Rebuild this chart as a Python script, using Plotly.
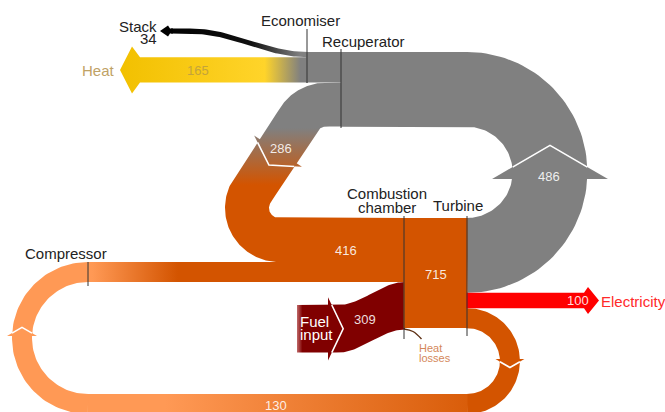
import numpy as np
import plotly.graph_objects as go

# flow values (same units as the reference diagram)
flow_names = ["Stack", "Heat", "Recuperated", "Exhaust", "Compressor", "Air", "Fuel input", "Turbine", "Electricity"]
flow_values = [34, 165, 286, 486, 130, 416, 309, 715, 100]
component_names = ["Economiser", "Recuperator", "Compressor", "Combustion chamber", "Turbine"]

V = dict(zip(flow_names, flow_values))
SCALE = 110 / V["Turbine"]  # px per unit


def W(v):
    return v * SCALE


GREY = "#808080"
ORANGE = "#d35400"
LIGHT = "#ff9955"
FUEL = "#800000"
RED = "#ff0000"

fig = go.Figure()


def seg(p0, p1, n=20):
    t = np.linspace(0, 1, n)[:, None]
    return np.asarray(p0, float) + (np.asarray(p1, float) - np.asarray(p0, float)) * t


def arc(c, r, a0, a1, n=80):
    a = np.radians(np.linspace(a0, a1, n))
    return np.column_stack([c[0] + r * np.cos(a), c[1] + r * np.sin(a)])


def scurve(p0, p1, n=60):
    t = np.linspace(0, 1, n)
    s = (1 - np.cos(np.pi * t)) / 2
    return np.column_stack([p0[0] + (p1[0] - p0[0]) * t, p0[1] + (p1[1] - p0[1]) * s])


def path(*parts):
    out = [parts[0]]
    for p in parts[1:]:
        out.append(p[1:])
    return np.vstack(out)


def ribbon(pts, width, vertical=False):
    p = np.asarray(pts, float)
    if vertical:
        top = p + [0, -width / 2]
        bot = p + [0, width / 2]
    else:
        t = np.gradient(p, axis=0)
        t /= np.hypot(t[:, 0], t[:, 1])[:, None]
        nrm = np.column_stack([-t[:, 1], t[:, 0]])
        top = p + nrm * width / 2
        bot = p - nrm * width / 2
    poly = np.vstack([top, bot[::-1], top[:1]])
    return poly[:, 0], poly[:, 1]


def add_fill(x, y, color=None, grad=None):
    kw = dict(x=x, y=y, mode="lines", fill="toself", line=dict(width=0),
              hoverinfo="skip", showlegend=False)
    if grad is not None:
        kw["fillgradient"] = grad
    else:
        kw["fillcolor"] = color
    fig.add_trace(go.Scatter(**kw))


def add_line(x, y, color, width=1, shape="linear"):
    fig.add_trace(go.Scatter(x=x, y=y, mode="lines", line=dict(color=color, width=width, shape=shape),
                             hoverinfo="skip", showlegend=False))


def arrow_head(base, heading, band_w, factor=1.5, ratio=0.58, color=None, grad=None):
    h = np.radians(heading)
    d = np.array([np.cos(h), np.sin(h)])
    n = np.array([-np.sin(h), np.cos(h)])
    b = np.asarray(base, float)
    hw = band_w / 2 * factor
    depth = hw * ratio
    tip = b + d * depth
    pts = np.array([b + n * hw, tip, b - n * hw, b + n * hw])
    add_fill(pts[:, 0], pts[:, 1], color=color, grad=grad)
    k = 1 - (band_w / 2) / hw
    wl = np.array([b + n * band_w / 2 + d * depth * k, tip, b - n * band_w / 2 + d * depth * k])
    add_line(wl[:, 0], wl[:, 1], "white", 1.6)


def straight_arrow(x0, x_tip, yc, w, hw, head_len, notch, color=None, grad=None):
    s = np.sign(x_tip - x0)
    back = x_tip - s * head_len
    nx = back - s * notch
    xs = [x0, nx, back, x_tip, back, nx, x0, x0]
    ys = [yc - w / 2, yc - w / 2, yc - hw, yc, yc + hw, yc + w / 2, yc + w / 2, yc - w / 2]
    add_fill(xs, ys, color=color, grad=grad)


# layout anchors (pixels)
X_ECO, X_REC, X_CMP, X_CH, X_TU = 307, 341, 88, 404, 467
Y_TOP = 218          # top of the chamber / turbine block
Y_LOOP = 52          # top of the exhaust loop

# ---- exhaust loop (grey) ----
w_ex = W(V["Exhaust"])
cy_g = (Y_LOOP + Y_TOP + w_ex) / 2
r_g = (Y_TOP + w_ex - Y_LOOP) / 2 - w_ex / 2
top_c = cy_g - r_g
p = path(arc((X_TU, cy_g), r_g, 90, -90), seg((X_TU, top_c), (X_REC, top_c)))
add_fill(*ribbon(p, w_ex), color=GREY)

w_eco = W(V["Stack"] + V["Heat"])
y_eco = Y_LOOP + w_eco / 2
add_fill(*ribbon(seg((X_REC + 1, y_eco), (X_ECO - 1, y_eco)), w_eco), color=GREY)

# ---- recuperated air (grey -> orange) ----
w_rc = W(V["Recuperated"])
y_rc0 = Y_LOOP + w_eco + w_rc / 2
y_rc1 = Y_TOP + w_rc / 2
R = 32
hd = 123.3
c2 = (279, y_rc1 - R)
c1x = c2[0] - (c2[1] - (y_rc0 + R)) * np.cos(np.radians(hd)) / np.sin(np.radians(hd))
c1 = (c1x, y_rc0 + R)
a1_end = np.array(c1) + R * np.array([np.cos(np.radians(hd + 90)), np.sin(np.radians(hd + 90))])
a2_start = np.array(c2) + R * np.array([np.cos(np.radians(hd + 90)), np.sin(np.radians(hd + 90))])
p = path(seg((X_REC + 1, y_rc0), (c1x, y_rc0)),
         arc(c1, R, 270, hd + 90),
         seg(a1_end, a2_start),
         arc(c2, R, hd + 90, 90),
         seg((c2[0], y_rc1), (X_CH + 1, y_rc1)))
rc_grad = dict(type="vertical", colorscale=[[0, GREY], [1, ORANGE]], start=128, stop=185)
add_fill(*ribbon(p, w_rc), grad=rc_grad)

# ---- compressor loop ----
w_cp = W(V["Compressor"])
y_cp0 = Y_TOP + W(V["Exhaust"]) + W(V["Electricity"]) + w_cp / 2
y_bot = 404
r_r = (y_bot - y_cp0) / 2
cy_r = y_cp0 + r_r
y_cpr = Y_TOP + w_rc + w_cp / 2
r_l = (y_bot - y_cpr) / 2
cy_l = y_cpr + r_l
add_fill(*ribbon(path(seg((X_TU - 1, y_cp0), (X_TU, y_cp0), 3), arc((X_TU, cy_r), r_r, -90, 90)), w_cp), color=ORANGE)
add_fill(*ribbon(seg((X_TU + 0.5, y_bot), (X_CMP - 0.5, y_bot)), w_cp),
         grad=dict(type="horizontal", colorscale=[[0, LIGHT], [1, "#d95d0a"]], start=165, stop=X_TU))
add_fill(*ribbon(arc((X_CMP, cy_l), r_l, 90, 270), w_cp), color=LIGHT)
add_fill(*ribbon(seg((X_CMP - 0.5, y_cpr), (X_CH + 1, y_cpr)), w_cp),
         grad=dict(type="horizontal", colorscale=[[0, LIGHT], [1, ORANGE]], start=92, stop=178))

# ---- fuel ----
w_fu = W(V["Fuel input"])
y_fu1 = Y_TOP + W(V["Air"]) + w_fu / 2
y_fu0 = y_fu1 + 23
p = path(seg((297, y_fu0), (338, y_fu0)), scurve((338, y_fu0), (X_CH + 1, y_fu1)))
add_fill(*ribbon(p, w_fu, vertical=True),
         grad=dict(type="horizontal", colorscale=[[0, "#c06a6a"], [0.05, FUEL], [1, FUEL]], start=297, stop=X_CH))
arrow_head((328, y_fu0), 0, w_fu, factor=1.33, ratio=0.48, color=FUEL)

# ---- chamber / turbine block ----
w_tu = W(V["Turbine"])
add_fill(*ribbon(seg((X_CH - 0.5, Y_TOP + w_tu / 2), (X_TU + 0.5, Y_TOP + w_tu / 2)), w_tu), color=ORANGE)

# heat losses
add_line([X_CH, 413, 421.5], [329, 331.5, 339], "#5c2e12", 1.4, "spline")

# ---- heat ----
w_ht = W(V["Heat"])
y_ht = Y_LOOP + W(V["Stack"]) + w_ht / 2
straight_arrow(X_ECO + 1, 120, y_ht, w_ht, 23.5, 12, 8,
               grad=dict(type="horizontal",
                         colorscale=[[0, "#f2c000"], [0.77, "#ffd42a"], [0.96, GREY], [1, GREY]],
                         start=120, stop=X_ECO + 1))

# ---- stack ----
w_st = W(V["Stack"])
y_st = Y_LOOP + w_st / 2
add_fill(*ribbon(path(scurve((X_ECO + 1, y_st), (190, 31)), seg((190, 31), (171, 31), 5)), w_st),
         grad=dict(type="horizontal", colorscale=[[0, "#000000"], [0.62, "#111111"], [0.95, GREY], [1, GREY]],
                   start=160, stop=X_ECO + 1))
straight_arrow(173, 160, 31, w_st, 5.5, 8, 2, color="#000000")

# ---- electricity ----
w_el = W(V["Electricity"])
y_el = Y_TOP + w_ex + w_el / 2
straight_arrow(X_TU - 0.5, 599, y_el, w_el, 13.5, 11, 4, color=RED)

# ---- direction arrows ----
arrow_head((X_TU + r_g, 179), -90, w_ex, factor=1.55, color=GREY)
t = 0.45
arrow_head(a1_end + (a2_start - a1_end) * t, hd, w_rc, factor=1.3, grad=rc_grad)
arrow_head((X_TU + r_r, cy_r - 2), 90, w_cp, factor=1.45, color=ORANGE)
arrow_head((X_CMP - r_l, cy_l - 2), -90, w_cp, factor=1.5, color=LIGHT)

# ---- component markers ----
LINE = "#333333"
for x, y0, y1 in [(X_ECO, 29, 83), (X_REC, 49, 128), (X_CH, 216, 339), (X_TU, 216, 336), (X_CMP, 262, 286)]:
    fig.add_shape(type="line", x0=x, x1=x, y0=y0, y1=y1, line=dict(color=LINE, width=1), layer="above")

FONT = "Liberation Sans, Arial, sans-serif"


def label(x, y, text, size=15, color="#222222", anchor="center"):
    fig.add_annotation(x=x, y=y, text=text, showarrow=False, xanchor=anchor, yanchor="middle",
                       font=dict(family=FONT, size=size, color=color))


NUM = "rgba(255,255,255,0.88)"
label(300, 20, component_names[0])
label(363, 41, component_names[1])
label(65.5, 253, component_names[2])
label(386.5, 193.5, "Combustion")
label(386.5, 207.5, "chamber")
label(458, 205.5, component_names[4])
label(159, 26, "Stack", anchor="right")
label(159, 38, str(V["Stack"]), anchor="right")
label(117, 70, "Heat", color="#bfa266", anchor="right")
label(198, 70, str(V["Heat"]), size=13, color="#c4a43a")
label(281, 148, str(V["Recuperated"]), size=13, color=NUM)
label(549, 176, str(V["Exhaust"]), size=13, color=NUM)
label(346, 250, str(V["Air"]), size=13, color=NUM)
label(436, 274, str(V["Turbine"]), size=13, color=NUM)
label(364.5, 319, str(V["Fuel input"]), size=13, color=NUM)
label(276, 405, str(V["Compressor"]), size=13, color=NUM)
label(578, 300.5, str(V["Electricity"]), size=13, color=NUM)
label(599, 301, "Electricity", color="#ff2a2a", anchor="left")
label(298, 321, "Fuel", color="white", anchor="left")
label(298, 334.5, "input", color="white", anchor="left")
label(417, 347.5, "Heat", size=11, color="#d4875a", anchor="left")
label(417, 357.5, "losses", size=11, color="#d4875a", anchor="left")

fig.update_layout(
    width=665, height=412, autosize=False,
    margin=dict(l=0, r=0, t=0, b=0),
    paper_bgcolor="white", plot_bgcolor="white",
    xaxis=dict(range=[0, 665], visible=False, fixedrange=True),
    yaxis=dict(range=[412, 0], visible=False, fixedrange=True),
    showlegend=False,
)

fig.write_html("out.html", config={"displayModeBar": False},
               post_script="document.body.style.margin='0';document.body.style.overflow='hidden';")
